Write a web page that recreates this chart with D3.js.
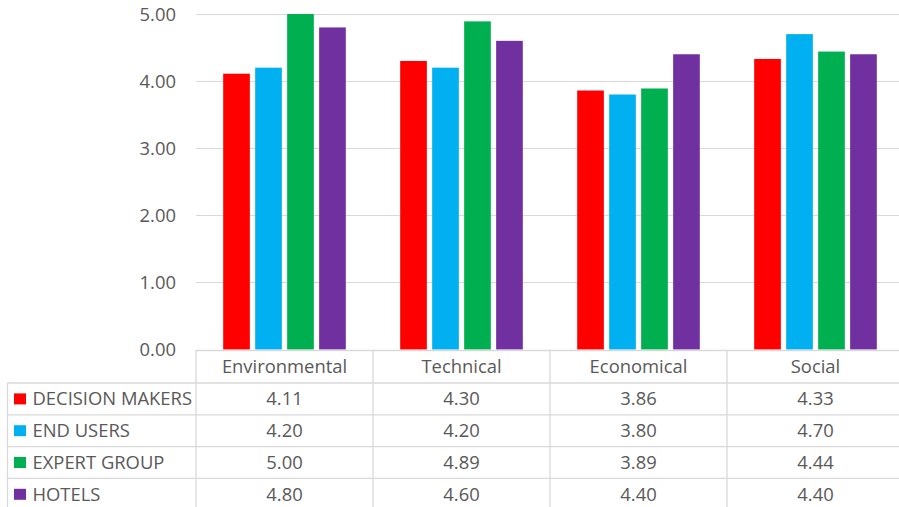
<!DOCTYPE html>
<html><head><meta charset="utf-8">
<script src="https://cdn.jsdelivr.net/npm/d3@7"></script>
<style>body{margin:0;background:#fff}svg{display:block}text{font-family:"Open Sans",sans-serif;fill:#595959}</style>
</head><body><svg id="c" width="899" height="507"></svg>
<script>
const categories = ["Environmental","Technical","Economical","Social"];
const seriesNames = ["DECISION MAKERS","END USERS","EXPERT GROUP","HOTELS"];
const decisionMakers = [4.11,4.30,3.86,4.33];
const endUsers = [4.20,4.20,3.80,4.70];
const expertGroup = [5.00,4.89,3.89,4.44];
const hotels = [4.80,4.60,4.40,4.40];
const yTicks = [0,1,2,3,4,5];
const colors = ["#FF0000","#00B0F0","#00B050","#7030A0"];
const values = [decisionMakers,endUsers,expertGroup,hotels];

const svg = d3.select("#c");
const fs = 18.4;
const plotLeft = 196, plotRight = 904, plotTop = 14, zeroY = 349.5;
const y = d3.scaleLinear().domain([0,5]).range([zeroY, plotTop]);
const x0 = d3.scaleBand().domain(categories).range([plotLeft, plotRight]).padding(0);
const x1 = d3.scaleBand().domain(seriesNames).range([0, x0.bandwidth()]).paddingInner(0.166).paddingOuter(0.85);
const grid = "#d9d9d9";

// gridlines
svg.append("g").selectAll("line").data(yTicks.filter(d=>d>0)).join("line")
  .attr("x1", plotLeft).attr("x2", plotRight)
  .attr("y1", d=>Math.round(y(d))+0.5).attr("y2", d=>Math.round(y(d))+0.5)
  .attr("stroke", grid).attr("stroke-width",1);

// y labels
const yAxis = d3.axisLeft(y).tickValues(yTicks).tickFormat(d3.format(".2f")).tickSize(0).tickPadding(0);
const ya = svg.append("g").attr("transform", "translate(176,0)").call(yAxis);
ya.select(".domain").remove();
ya.selectAll("text").style("font-family","'Open Sans',sans-serif").style("font-size",fs+"px").attr("fill","#595959").attr("dy","0.35em");

// bars
const g = svg.append("g");
categories.forEach((c,ci)=>{
  seriesNames.forEach((s,si)=>{
    const v = values[si][ci];
    g.append("rect")
      .attr("x", x0(c)+x1(s)).attr("width", x1.bandwidth())
      .attr("y", y(v)).attr("height", zeroY - y(v))
      .attr("fill", colors[si]);
  });
});

// table
const rowH = 31.8, headTop = 350.5;
const rowsTop = headTop + 32.5;
const tbl = svg.append("g").attr("stroke", grid).attr("stroke-width", 1.3).attr("fill","none");
tbl.append("line").attr("x1",plotLeft).attr("x2",plotRight).attr("y1",headTop).attr("y2",headTop);
for(let i=0;i<=4;i++){
  const yy = rowsTop + i*rowH;
  tbl.append("line").attr("x1",7.5).attr("x2",plotRight).attr("y1",yy).attr("y2",yy);
}
tbl.append("line").attr("x1",7.5).attr("x2",7.5).attr("y1",rowsTop).attr("y2",507);
categories.concat(["_end"]).forEach((c,i)=>{
  const xx = plotLeft + i*x0.bandwidth();
  tbl.append("line").attr("x1",xx).attr("x2",xx).attr("y1",headTop).attr("y2",507);
});

// header labels
svg.append("g").selectAll("text").data(categories).join("text")
  .attr("x", d=>x0(d)+x0.bandwidth()/2).attr("y", headTop + 16.5)
  .attr("text-anchor","middle").attr("dy","0.35em").style("font-size",fs+"px").text(d=>d);

// rows
seriesNames.forEach((s,si)=>{
  const cy = rowsTop + si*rowH + rowH/2;
  svg.append("rect").attr("x",14).attr("y",cy-5.5).attr("width",12).attr("height",11).attr("fill",colors[si]);
  svg.append("text").attr("x",32.5).attr("y",cy).attr("dy","0.35em").style("font-size",fs+"px").text(s);
  categories.forEach((c,ci)=>{
    svg.append("text").attr("x", x0(c)+x0.bandwidth()/2).attr("y", cy).attr("dy","0.35em")
      .attr("text-anchor","middle").style("font-size",fs+"px").text(d3.format(".2f")(values[si][ci]));
  });
});
</script></body></html>
